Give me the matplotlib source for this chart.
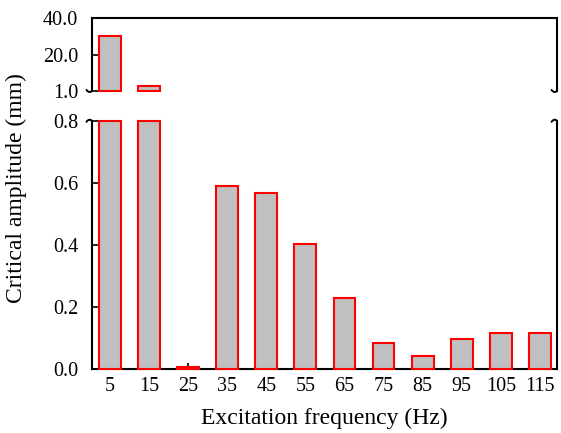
import numpy as np
import matplotlib
matplotlib.use("Agg")
import matplotlib.pyplot as plt
from matplotlib.lines import Line2D

freqs = [5, 15, 25, 35, 45, 55, 65, 75, 85, 95, 105, 115]
amplitude = [30.5, 3.6, 0.005, 0.59, 0.568, 0.403, 0.229, 0.084, 0.042, 0.097, 0.116, 0.116]
xtick_labels = ["5", "15", "25", "35", "45", "55", "65", "75", "85", "95", "105", "115"]
low_ticks = [0.0, 0.2, 0.4, 0.6, 0.8]
high_ticks = [1.0, 20.0, 40.0]

plt.rcParams['font.family'] = ['Liberation Serif', 'DejaVu Serif']

fig = plt.figure(figsize=(5.61, 4.33), dpi=100)
left, right = 0.164, 0.993
ax_hi = fig.add_axes([left, 0.790, right - left, 0.168])
ax_lo = fig.add_axes([left, 0.148, right - left, 0.573])

vals = np.array(amplitude)
x = np.array(freqs)
width = 5.6
face = '#c0c0c0'
edge = '#ff0000'
lw_bar = 1.5
tick_fs = 14.5
label_fs = 17

lo_top = low_ticks[-1]
hi_bot = high_ticks[0]

# lower axes
ax_lo.set_axisbelow(True)
ax_lo.bar(x, np.minimum(vals, lo_top), width=width, color=face, edgecolor=edge,
          linewidth=lw_bar, clip_on=False, zorder=3)
ax_lo.set_xlim(0.4, 119.4)
ax_lo.set_ylim(0, lo_top)
ax_lo.set_yticks(low_ticks)
ax_lo.set_yticklabels([f"{t:.1f}" for t in low_ticks])
ax_lo.set_xticks(freqs)
ax_lo.set_xticklabels(xtick_labels)
ax_lo.spines['top'].set_visible(False)
for s in ['left', 'right', 'bottom']:
    ax_lo.spines[s].set_linewidth(1.5)
ax_lo.tick_params(axis='both', direction='in', length=4, width=1.2, labelsize=tick_fs)
ax_lo.tick_params(axis='y', pad=10)
ax_lo.tick_params(axis='x', pad=6)
ax_lo.set_xlabel("Excitation frequency (Hz)", fontsize=label_fs, labelpad=8)

# upper axes
mask = vals > hi_bot
ax_hi.bar(x[mask], vals[mask] - hi_bot, bottom=hi_bot, width=width, color=face,
          edgecolor=edge, linewidth=lw_bar, clip_on=False, zorder=3)
ax_hi.set_xlim(0.4, 119.4)
ax_hi.set_ylim(hi_bot, high_ticks[-1])
ax_hi.set_yticks(high_ticks)
ax_hi.set_yticklabels([f"{t:.1f}" for t in high_ticks])
ax_hi.set_xticks([])
ax_hi.spines['bottom'].set_visible(False)
for s in ['left', 'right', 'top']:
    ax_hi.spines[s].set_linewidth(1.5)
ax_hi.tick_params(axis='y', direction='in', length=4, width=1.2, labelsize=tick_fs, pad=10)

# break marks: small hooks curling left at the spine ends
hook_x = np.array([0.0, 0.0, -0.4, -1.5, -3.0, -4.5, -5.5])
hook_y = np.array([4.0, 1.0, -0.3, -1.0, -1.0, -0.2, 1.0])

def curl(ax, xa, ya, flip):
    pts = ax.transAxes.transform((xa, ya))
    ln = Line2D(pts[0] + hook_x, pts[1] + hook_y * flip, transform=None,
                color='black', linewidth=1.4, clip_on=False,
                solid_capstyle='round', solid_joinstyle='round')
    fig.add_artist(ln)

fig.canvas.draw()
curl(ax_hi, 0, 0, 1)
curl(ax_hi, 1, 0, 1)
curl(ax_lo, 0, 1, -1)
curl(ax_lo, 1, 1, -1)

fig.text(0.03, 0.566, "Critical amplitude (mm)", rotation=90,
         ha='center', va='center', fontsize=label_fs)

fig.savefig("out.png", dpi=100)
